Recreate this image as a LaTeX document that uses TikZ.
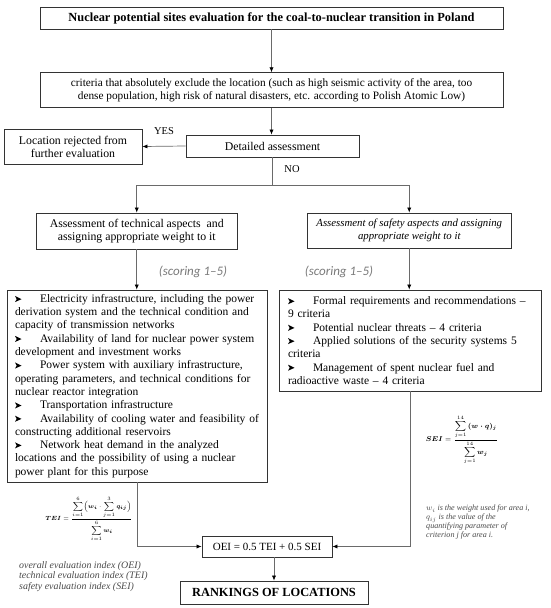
\documentclass[tikz,border=0pt]{standalone}
\usepackage{amsmath}
\usepackage{fontspec}
\setmainfont{Liberation Serif}
\newfontfamily\scorefont{Carlito}
\usetikzlibrary{arrows.meta}
\definecolor{linegray}{HTML}{6A6A6A}
\definecolor{boxgray}{HTML}{333333}
\definecolor{notegray}{HTML}{4A4A4A}
\definecolor{scoregray}{HTML}{7A7A7A}
\newcommand{\bul}{\makebox[25pt][l]{\tikz[baseline=0pt]\fill[black] (0pt,0.3pt)--(6.5pt,3.2pt)--(0pt,6.4pt)--(1.7pt,3.2pt)--cycle;}}
\newcommand{\seiformula}{$\displaystyle \boldsymbol{SEI}=\frac{\displaystyle\sum_{j=1}^{14}\boldsymbol{(w\cdot q)_j}}{\displaystyle\sum_{j=1}^{14}\boldsymbol{w_j}}$}
\newcommand{\teiformula}{$\displaystyle \boldsymbol{TEI}=\frac{\displaystyle\sum_{i=1}^{6}\Bigl(\boldsymbol{w_i}\cdot\sum_{j=1}^{3}\boldsymbol{q_{ij}}\Bigr)}{\displaystyle\sum_{i=1}^{6}\boldsymbol{w_i}}$}
\begin{document}
\begin{tikzpicture}[x=1pt,y=-1pt,
  box/.style={draw=boxgray, line width=0.9pt, fill=white, inner sep=0pt, align=center},
  listbox/.style={box, align=left, font=\fontsize{11.5}{13.3}\selectfont},
  conn/.style={draw=linegray, line width=0.7pt},
  arr/.style={conn, -{Latex[length=5pt,width=4.2pt,color=black]}},
  lbl/.style={inner sep=0pt, font=\fontsize{10.5}{11}\selectfont},
  score/.style={inner sep=0pt, text=scoregray, font=\scorefont\itshape\fontsize{13}{14}\selectfont},
  formula/.style={inner sep=0pt, font=\fontsize{7}{8}\selectfont}
]
\fill[white] (0,0) rectangle (550,608);
\useasboundingbox (0,0) rectangle (550,608);

\node[box, minimum width=463pt, minimum height=22pt, font=\bfseries\fontsize{12.4}{13}\selectfont] (title) at (271.5,18)
  {Nuclear potential sites evaluation for the coal-to-nuclear transition in Poland};
\node[box, minimum width=463pt, minimum height=35pt, font=\fontsize{11.3}{13}\selectfont] (excl) at (271.5,90.2)
  {criteria that absolutely exclude the location (such as high seismic activity of the area, too\\
   dense population, high risk of natural disasters, etc. according to Polish Atomic Low)};
\node[box, minimum width=173pt, minimum height=22pt, font=\fontsize{11.8}{12}\selectfont] (detail) at (272.5,146)
  {Detailed assessment};
\node[box, minimum width=138pt, minimum height=35pt, font=\fontsize{11.8}{13}\selectfont] (reject) at (73,146.5)
  {Location rejected from\\further evaluation};
\node[lbl] (yes) at (164,131) {YES};
\node[lbl] (no) at (292,169) {NO};

\node[box, minimum width=201.5pt, minimum height=36pt, font=\fontsize{11.8}{13.5}\selectfont] (techA) at (136.75,231)
  {Assessment of technical aspects\ \ and\\assigning appropriate weight to it};
\node[box, minimum width=203.5pt, minimum height=35pt, font=\itshape\fontsize{10.8}{13.5}\selectfont] (safeA) at (409.25,230.5)
  {Assessment of safety aspects and assigning\\appropriate weight to it};
\node[score] (scoreT) at (193,272) {(scoring 1\textendash 5)};
\node[score] (scoreS) at (339,272) {(scoring 1\textendash 5)};

\node[listbox, minimum width=260pt, minimum height=192pt, text width=244pt] (techL) at (137,386)
  {\bul Electricity infrastructure, including the power\\
   derivation system and the technical condition and\\
   capacity of transmission networks\\
   \bul Availability of land for nuclear power system\\
   development and investment works\\
   \bul Power system with auxiliary infrastructure,\\
   operating parameters, and technical conditions for\\
   nuclear reactor integration\\
   \bul Transportation infrastructure\\
   \bul Availability of cooling water and feasibility of\\
   constructing additional reservoirs\\
   \bul Network heat demand in the analyzed\\
   locations and the possibility of using a nuclear\\
   power plant for this purpose};
\node[listbox, minimum width=262pt, minimum height=101pt, text width=244pt] (safeL) at (410,340.5)
  {\bul Formal requirements and recommendations --\\
   9 criteria\\
   \bul Potential nuclear threats -- 4 criteria\\
   \bul Applied solutions of the security systems 5\\
   criteria\\
   \bul Management of spent nuclear fuel and\\
   radioactive waste -- 4 criteria};

\node[formula] (sei) at (462,440) {\seiformula};
\node[formula, font=\fontsize{6.3}{7}\selectfont] (tei) at (89,519) {\teiformula};

\node[anchor=north west, align=left, inner sep=0pt, text=notegray, font=\itshape\fontsize{8.1}{9}\selectfont] (note) at (426,505)
  {$w_i$ is the weight used for area i,\\
   $q_{ij}$ is the value of the\\
   quantifying parameter of\\
   criterion j for area i.};
\node[anchor=north west, align=left, inner sep=0pt, text=notegray, font=\itshape\fontsize{9.9}{10.5}\selectfont] (legend) at (19,561)
  {overall evaluation index (OEI)\\
   technical evaluation index (TEI)\\
   safety evaluation index (SEI)};

\node[box, minimum width=130pt, minimum height=21pt, font=\fontsize{11}{12}\selectfont] (oei) at (267,546.5)
  {OEI = 0.5 TEI + 0.5 SEI};
\node[box, minimum width=188pt, minimum height=23pt, font=\bfseries\fontsize{12.4}{13}\selectfont] (rank) at (274,592.5)
  {RANKINGS OF LOCATIONS};

\coordinate (split) at (272.5,185.7);
\draw[arr] (title.south) -- (excl.north);
\draw[arr] (excl.south) -- (excl.south |- detail.north);
\draw[arr] (detail.west) -- (reject.east);
\draw[conn] (detail.south) -- (split);
\draw[arr] (split) -| (techA.north);
\draw[arr] (split) -| (safeA.north);
\draw[arr] (techA.south) -- (techA.south |- techL.north);
\draw[arr] (safeA.south) -- (safeA.south |- safeL.north);
\draw[arr] (techL.south) |- (oei.west);
\draw[arr] (safeL.south) |- (oei.east);
\draw[arr] (oei.south -| rank.north) -- (rank.north);
\end{tikzpicture}
\end{document}
